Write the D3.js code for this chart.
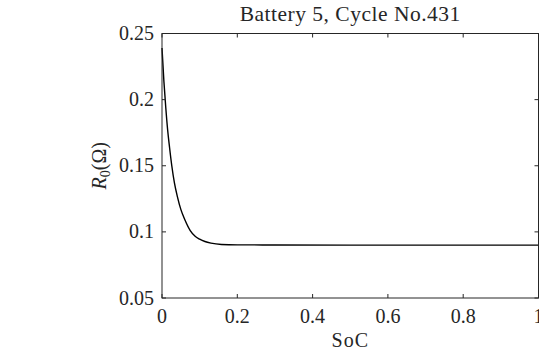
<!DOCTYPE html>
<html>
<head>
  <meta charset="utf-8">
  <script src="https://d3js.org/d3.v7.min.js"></script>
  <style>
    body { margin: 0; background: #fff; }
    svg { display: block; }
    text { font-family: "Liberation Serif", "Times New Roman", serif; fill: #262626; }
    .axis-line { stroke: #262626; stroke-width: 1; fill: none; }
    .tick { stroke: #262626; stroke-width: 1; }
    .curve { stroke: #000; stroke-width: 1.4; fill: none; }
  </style>
</head>
<body>
  <svg id="chart" width="539" height="353"></svg>

  <script>
    // values
    const soc = [0, 0.005, 0.01, 0.015, 0.02, 0.026, 0.033, 0.041, 0.05, 0.061,
                 0.075, 0.088, 0.1, 0.114, 0.13, 0.158, 0.2, 0.3, 0.5, 0.7, 1];
    const r0 = [0.239, 0.214, 0.194, 0.177, 0.164, 0.150, 0.137, 0.1265, 0.117, 0.109,
                0.101, 0.0967, 0.0945, 0.0927, 0.0915, 0.0905, 0.0902, 0.0901, 0.09, 0.09, 0.09];
    const xTicks = [0, 0.2, 0.4, 0.6, 0.8, 1];
    const yTicks = [0.05, 0.1, 0.15, 0.2, 0.25];
    const title = "Battery 5, Cycle No.431";

    const svg = d3.select("#chart");
    const mLeft = 162, mRight = 538.5, mTop = 33.5, mBottom = 298;

    const x = d3.scaleLinear().domain([0, 1]).range([mLeft, mRight]);
    const y = d3.scaleLinear().domain([0.05, 0.25]).range([mBottom, mTop]);

    // curve
    const line = d3.line()
      .x((d, i) => x(soc[i]))
      .y(d => y(d))
      .curve(d3.curveMonotoneX);
    svg.append("path").attr("class", "curve").attr("d", line(r0));

    // box
    svg.append("rect").attr("class", "axis-line")
      .attr("x", mLeft).attr("y", mTop)
      .attr("width", mRight - mLeft).attr("height", mBottom - mTop);

    const tl = 4;
    // x ticks
    xTicks.forEach(t => {
      svg.append("line").attr("class", "tick")
        .attr("x1", x(t)).attr("x2", x(t)).attr("y1", mBottom).attr("y2", mBottom - tl);
      svg.append("line").attr("class", "tick")
        .attr("x1", x(t)).attr("x2", x(t)).attr("y1", mTop).attr("y2", mTop + tl);
      svg.append("text")
        .attr("x", x(t)).attr("y", mBottom + 25)
        .attr("text-anchor", "middle").attr("font-size", 20)
        .text(d3.format("~g")(t));
    });

    // y ticks
    yTicks.forEach(t => {
      svg.append("line").attr("class", "tick")
        .attr("x1", mLeft).attr("x2", mLeft + tl).attr("y1", y(t)).attr("y2", y(t));
      svg.append("line").attr("class", "tick")
        .attr("x1", mRight).attr("x2", mRight - tl).attr("y1", y(t)).attr("y2", y(t));
      svg.append("text")
        .attr("x", mLeft - 8).attr("y", y(t) + 6.5)
        .attr("text-anchor", "end").attr("font-size", 20)
        .text(d3.format("~g")(t));
    });

    // title
    svg.append("text")
      .attr("x", (mLeft + mRight) / 2).attr("y", 21)
      .attr("text-anchor", "middle").attr("font-size", 21.5)
      .attr("letter-spacing", 0.5)
      .text(title);

    // x label
    svg.append("text")
      .attr("x", (mLeft + mRight) / 2).attr("y", 347)
      .attr("text-anchor", "middle").attr("font-size", 20)
      .attr("letter-spacing", 1)
      .text("SoC");

    // y label
    const yl = svg.append("text")
      .attr("transform", `translate(106,${(mTop + mBottom) / 2}) rotate(-90)`)
      .attr("text-anchor", "middle").attr("font-size", 20);
    yl.append("tspan").attr("font-style", "italic").text("R");
    yl.append("tspan").attr("font-size", 14).attr("dy", 4).text("0");
    yl.append("tspan").attr("dy", -4).text("(Ω)");
  </script>
</body>
</html>
